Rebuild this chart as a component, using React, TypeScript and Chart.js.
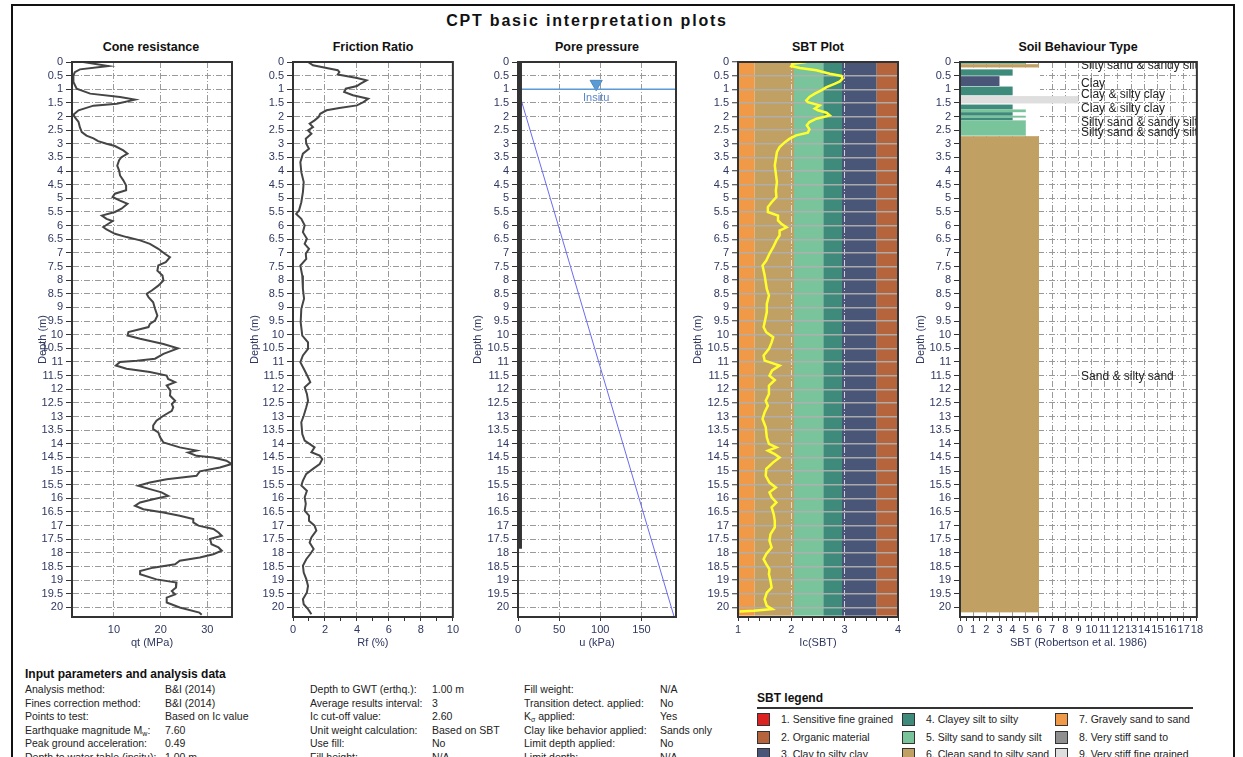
import React, { useEffect, useRef } from "react";
import { Chart, registerables } from "chart.js";

Chart.register(...registerables);

const FONT_FAMILY = "'Liberation Sans', Arial, sans-serif";
const TICK_COLOR = "#2f3760";
const GRID_COLOR = "#9a9a9a";
const GRID_DASH = [6, 2, 1, 2];

// ---------- depth axis ----------
const DEPTH_MIN = 0;
const DEPTH_MAX = 20.35;
const DEPTH_TICKS = [0, 0.5, 1, 1.5, 2, 2.5, 3, 3.5, 4, 4.5, 5, 5.5, 6, 6.5, 7, 7.5, 8, 8.5, 9, 9.5, 10, 10.5, 11, 11.5, 12, 12.5, 13, 13.5, 14, 14.5, 15, 15.5, 16, 16.5, 17, 17.5, 18, 18.5, 19, 19.5, 20];

// ---------- cone resistance qt (MPa) ----------
const QT_DEPTH = [0, 0.15, 0.27, 0.37, 0.5, 0.73, 0.98, 1.16, 1.28, 1.38, 1.53, 1.6, 1.77, 1.93, 2.02, 2.2, 2.4, 2.57, 2.7, 2.8, 2.9, 3.0, 3.08, 3.24, 3.36, 3.49, 3.6, 3.8, 3.98, 4.16, 4.34, 4.53, 4.7, 4.83, 4.95, 5.08, 5.2, 5.38, 5.5, 5.63, 5.75, 5.83, 5.93, 6.05, 6.14, 6.3, 6.42, 6.54, 6.67, 6.85, 7.03, 7.16, 7.34, 7.46, 7.65, 7.83, 8.01, 8.2, 8.38, 8.5, 8.62, 8.81, 9.05, 9.3, 9.48, 9.6, 9.72, 9.9, 10.03, 10.15, 10.34, 10.5, 10.7, 10.88, 10.95, 11.0, 11.13, 11.25, 11.37, 11.5, 11.62, 11.74, 11.86, 12.05, 12.23, 12.42, 12.54, 12.66, 12.79, 12.97, 13.15, 13.33, 13.46, 13.58, 13.76, 13.95, 14.13, 14.25, 14.32, 14.44, 14.5, 14.62, 14.74, 14.87, 15.01, 15.17, 15.3, 15.42, 15.54, 15.66, 15.78, 15.91, 16.03, 16.15, 16.27, 16.4, 16.52, 16.64, 16.76, 16.88, 17.0, 17.12, 17.25, 17.37, 17.49, 17.68, 17.8, 17.92, 18.05, 18.17, 18.29, 18.42, 18.54, 18.66, 18.78, 18.97, 19.09, 19.27, 19.4, 19.52, 19.64, 19.82, 20.0, 20.19, 20.27];
const QT_MPA = [3.4, 8.8, 2.7, 1.6, 1.3, 1.3, 2.0, 4.9, 11.3, 14.5, 10.6, 5.6, 2.4, 1.3, 1.6, 2.4, 2.7, 3.1, 4.1, 5.6, 6.6, 8.4, 10.2, 12.0, 12.9, 11.6, 11.1, 10.7, 11.1, 11.3, 12.0, 12.6, 12.6, 10.2, 9.7, 11.3, 12.9, 11.6, 10.2, 7.4, 8.4, 9.7, 8.8, 7.7, 8.4, 10.2, 12.7, 15.6, 17.7, 19.5, 20.9, 22.0, 21.1, 19.5, 19.3, 20.4, 20.6, 19.5, 18.1, 17.0, 17.4, 18.4, 18.8, 19.3, 18.8, 17.7, 17.4, 13.1, 12.9, 15.6, 20.6, 23.7, 20.6, 18.8, 14.9, 11.3, 10.4, 12.7, 17.7, 21.3, 21.6, 23.1, 21.3, 22.1, 22.0, 23.1, 22.4, 22.7, 22.4, 20.6, 19.1, 18.4, 18.4, 19.5, 19.9, 20.6, 24.1, 27.7, 25.9, 27.7, 31.3, 34.1, 35.2, 32.7, 28.4, 27.7, 21.3, 17.7, 15.2, 17.7, 20.2, 21.6, 18.4, 15.6, 14.5, 16.3, 20.6, 24.1, 27.0, 27.0, 28.1, 31.3, 32.4, 33.1, 30.6, 30.9, 32.4, 33.1, 31.3, 28.4, 24.1, 23.1, 18.4, 15.6, 15.6, 19.1, 23.4, 23.3, 22.4, 23.1, 21.3, 21.3, 24.1, 28.3, 28.8];
const QT_TICKS = [10, 20, 30];

// ---------- friction ratio Rf (%) ----------
const RF_DEPTH = [0, 0.12, 0.22, 0.3, 0.37, 0.46, 0.59, 0.67, 0.8, 0.88, 0.98, 1.1, 1.22, 1.35, 1.47, 1.59, 1.69, 1.77, 1.9, 2.02, 2.14, 2.26, 2.39, 2.51, 2.63, 2.81, 3.0, 3.18, 3.36, 3.67, 4.04, 4.4, 4.77, 5.14, 5.44, 5.57, 5.75, 5.99, 6.24, 6.48, 6.67, 6.85, 7.03, 7.22, 7.46, 7.83, 8.32, 8.68, 9.05, 9.54, 10.03, 10.28, 10.52, 10.76, 11.01, 11.31, 11.56, 11.74, 11.93, 12.17, 12.42, 12.66, 12.97, 13.21, 13.64, 13.88, 14.13, 14.31, 14.43, 14.56, 14.74, 14.92, 15.1, 15.35, 15.53, 15.72, 15.96, 16.2, 16.45, 16.63, 16.82, 17.0, 17.18, 17.43, 17.62, 17.86, 18.04, 18.23, 18.47, 18.72, 18.96, 19.21, 19.45, 19.7, 19.88, 20.06, 20.25];
const RF_PCT = [0.94, 1.25, 2.1, 2.8, 2.9, 2.8, 4.0, 4.6, 4.2, 4.0, 3.3, 3.2, 3.75, 4.7, 4.4, 4.0, 2.9, 2.1, 1.7, 1.6, 1.35, 1.04, 1.25, 0.94, 1.15, 0.8, 0.83, 1.0, 0.62, 0.46, 0.52, 0.67, 0.62, 0.52, 0.38, 0.2, 0.52, 0.73, 0.62, 0.87, 0.73, 1.0, 0.8, 0.83, 0.46, 0.58, 0.62, 0.69, 0.52, 0.48, 0.58, 0.94, 0.94, 0.62, 0.46, 0.73, 0.94, 1.08, 0.73, 0.87, 0.94, 0.83, 0.67, 0.52, 0.58, 0.73, 1.35, 1.15, 1.67, 1.83, 1.67, 1.25, 0.83, 0.62, 0.52, 0.87, 0.73, 0.8, 0.73, 1.0, 1.0, 1.35, 1.46, 1.15, 1.04, 1.29, 1.08, 0.83, 0.62, 0.67, 0.83, 0.94, 0.87, 0.62, 0.67, 0.94, 1.15];
const RF_TICKS = [0, 1, 2, 3, 4, 5, 6, 7, 8, 9, 10];

// ---------- pore pressure u (kPa) ----------
const U2_DEPTH = [0, 17.85];
const U2_KPA = [3, 3];
const UHYD_DEPTH = [1.0, 20.35];
const UHYD_KPA = [0, 189.8];
const GWT_LINE_DEPTH = [1.0, 1.0];
const GWT_LINE_KPA = [0, 192];
const GWT_MARKER_DEPTH = [0.8];
const GWT_MARKER_KPA = [95];
const GWT_LABEL = "Insitu";
const GWT_LABEL_DEPTH = 1.32;
const U_TICKS = [0, 50, 100, 150];

// ---------- Ic (SBT) ----------
const IC_DEPTH = [0, 0.06, 0.15, 0.22, 0.3, 0.43, 0.51, 0.61, 0.71, 0.8, 0.92, 1.04, 1.16, 1.28, 1.41, 1.47, 1.59, 1.71, 1.77, 1.86, 1.96, 2.08, 2.2, 2.32, 2.47, 2.59, 2.69, 2.81, 2.94, 3.12, 3.3, 3.55, 3.79, 4.1, 4.4, 4.71, 4.95, 5.14, 5.32, 5.5, 5.63, 5.81, 5.93, 6.06, 6.18, 6.36, 6.54, 6.79, 7.03, 7.28, 7.46, 7.83, 8.32, 8.56, 8.87, 9.17, 9.54, 9.72, 9.91, 10.09, 10.28, 10.52, 10.76, 10.95, 11.13, 11.31, 11.5, 11.66, 11.87, 12.17, 12.42, 12.6, 12.84, 13.09, 13.39, 13.76, 14.0, 14.13, 14.25, 14.38, 14.5, 14.68, 14.92, 15.17, 15.42, 15.6, 15.78, 15.96, 16.15, 16.33, 16.58, 16.82, 17.06, 17.31, 17.55, 17.8, 18.04, 18.23, 18.41, 18.6, 18.78, 19.03, 19.27, 19.46, 19.7, 19.94, 20.06, 20.12, 20.15];
const IC_VALUE = [2.28, 2.03, 2.0, 2.16, 2.47, 2.72, 2.94, 2.96, 2.91, 2.81, 2.66, 2.56, 2.44, 2.34, 2.28, 2.31, 2.53, 2.44, 2.5, 2.66, 2.72, 2.47, 2.34, 2.29, 2.34, 2.31, 2.09, 1.97, 1.88, 1.78, 1.73, 1.71, 1.69, 1.71, 1.73, 1.71, 1.72, 1.63, 1.56, 1.56, 1.75, 1.75, 1.81, 1.91, 1.78, 1.78, 1.72, 1.66, 1.59, 1.53, 1.46, 1.5, 1.54, 1.58, 1.54, 1.54, 1.5, 1.48, 1.53, 1.66, 1.63, 1.58, 1.48, 1.5, 1.78, 1.64, 1.59, 1.69, 1.58, 1.58, 1.52, 1.56, 1.5, 1.46, 1.52, 1.54, 1.58, 1.72, 1.56, 1.69, 1.78, 1.66, 1.53, 1.52, 1.59, 1.71, 1.59, 1.63, 1.72, 1.63, 1.67, 1.69, 1.69, 1.61, 1.59, 1.63, 1.53, 1.48, 1.53, 1.59, 1.58, 1.61, 1.63, 1.54, 1.5, 1.54, 1.64, 1.3, 1.03];
const IC_TICKS = [1, 1.2, 1.4, 1.6, 1.8, 2, 2.2, 2.4, 2.6, 2.8, 3, 3.2, 3.4, 3.6, 3.8, 4];
const IC_BOUNDS = [1, 1.31, 2.05, 2.6, 2.95, 3.6, 4];
const IC_BAND_ZONES = [7, 6, 5, 4, 3, 2];
const IC_BAND_BOTTOM = 20.3;

// ---------- SBT layers (Robertson 1986) ----------
const LAYER_TOP = [0, 0.08, 0.27, 0.52, 0.9, 1.25, 1.56, 1.74, 1.84, 1.97, 2.04, 2.14, 2.72];
const LAYER_BOTTOM = [0.08, 0.2, 0.5, 0.88, 1.22, 1.52, 1.74, 1.84, 1.97, 2.04, 2.14, 2.7, 20.18];
const LAYER_ZONE = [5, 6, 4, 3, 4, 9, 4, 5, 4, 5, 4, 5, 6];
const SBT_TICKS = [0, 0.5, 1, 1.5, 2, 2.5, 3, 3.5, 4, 4.5, 5, 5.5, 6, 6.5, 7, 7.5, 8, 8.5, 9, 9.5, 10, 10.5, 11, 11.5, 12, 12.5, 13, 13.5, 14, 14.5, 15, 15.5, 16, 16.5, 17, 17.5, 18];
const LAYER_LABEL_TEXT = ["Silty sand & sandy silt", "Clay", "Clay & silty clay", "Clay & silty clay", "Silty sand & sandy silt", "Silty sand & sandy silt", "Sand & silty sand"];
const LAYER_LABEL_DEPTH = [0.14, 0.8, 1.2, 1.71, 2.22, 2.59, 11.54];
const LAYER_LABEL_X = 9.2;

// ---------- zone colours & legend ----------
const ZONE_COLORS: Record<number, string> = {
  1: "#dd2222",
  2: "#b5643b",
  3: "#4a5678",
  4: "#3e8b7b",
  5: "#7ac49c",
  6: "#c1a063",
  7: "#f09a48",
  8: "#8f8f8f",
  9: "#dedede",
};
const LEGEND_ZONES = [1, 2, 3, 4, 5, 6, 7, 8, 9];
const LEGEND_TEXT = [
  "1. Sensitive fine grained",
  "2. Organic material",
  "3. Clay to silty clay",
  "4. Clayey silt to silty",
  "5. Silty sand to sandy silt",
  "6. Clean sand to silty sand",
  "7. Gravely sand to sand",
  "8. Very stiff sand to",
  "9. Very stiff fine grained",
];

// ---------- input parameter table ----------
const PARAM_LABELS_A = ["Analysis method:", "Fines correction method:", "Points to test:", "Earthquake magnitude M_w:", "Peak ground acceleration:", "Depth to water table (insitu):"];
const PARAM_VALUES_A = ["B&I (2014)", "B&I (2014)", "Based on Ic value", "7.60", "0.49", "1.00 m"];
const PARAM_LABELS_B = ["Depth to GWT (erthq.):", "Average results interval:", "Ic cut-off value:", "Unit weight calculation:", "Use fill:", "Fill height:"];
const PARAM_VALUES_B = ["1.00 m", "3", "2.60", "Based on SBT", "No", "N/A"];
const PARAM_LABELS_C = ["Fill weight:", "Transition detect. applied:", "K_σ applied:", "Clay like behavior applied:", "Limit depth applied:", "Limit depth:"];
const PARAM_VALUES_C = ["N/A", "No", "Yes", "Sands only", "No", "N/A"];

// ======================================================================

const pts = (xs: number[], ys: number[]) => ys.map((y, i) => ({ x: xs[i], y }));
const tickFont = { family: FONT_FAMILY, size: 11 };

function depthAxis(width: number, titlePad: number, grid: any = {}, dash: number[] = GRID_DASH) {
  return {
    type: "linear",
    position: "left",
    reverse: true,
    min: DEPTH_MIN,
    max: DEPTH_MAX,
    afterBuildTicks: (s: any) => {
      s.ticks = DEPTH_TICKS.map((v) => ({ value: v }));
    },
    afterFit: (s: any) => {
      s.width = width;
    },
    ticks: { autoSkip: false, color: TICK_COLOR, font: tickFont, padding: 3, callback: (v: any) => String(v) },
    grid: { color: GRID_COLOR, lineWidth: 1, tickLength: 6, tickColor: "#333", tickWidth: 1, ...grid },
    border: { display: true, color: "#333", width: 2, dash },
    title: { display: true, text: "Depth (m)", color: TICK_COLOR, font: tickFont, padding: { top: titlePad, bottom: 0 } },
  };
}

function valueAxis(min: number, max: number, ticks: number[], title: string, label: (v: number) => string, gridColor: any, tickColor: any, dash: number[] = GRID_DASH) {
  return {
    type: "linear",
    position: "bottom",
    min,
    max,
    afterBuildTicks: (s: any) => {
      s.ticks = ticks.map((v) => ({ value: v }));
    },
    afterFit: (s: any) => {
      s.height = 33;
    },
    ticks: { autoSkip: false, maxRotation: 0, minRotation: 0, color: TICK_COLOR, font: tickFont, padding: 2, callback: (v: any) => label(Number(v)) },
    grid: { color: gridColor, lineWidth: 1, tickLength: 4, tickColor, tickWidth: 1 },
    border: { display: true, color: "#333", width: 2, dash },
    title: { display: true, text: title, color: TICK_COLOR, font: tickFont, padding: { top: 0, bottom: 0 } },
  };
}

const framePlugin = {
  id: "frame",
  afterDraw(chart: any) {
    const { ctx, chartArea: a } = chart;
    ctx.save();
    ctx.strokeStyle = "#333";
    ctx.lineWidth = 2;
    ctx.strokeRect(a.left, a.top, a.right - a.left, a.bottom - a.top);
    ctx.restore();
  },
};

const icBandsPlugin = {
  id: "icBands",
  beforeDraw(chart: any) {
    const { ctx, scales } = chart;
    const x = scales.x;
    const y = scales.y;
    ctx.save();
    for (let i = 0; i < IC_BAND_ZONES.length; i++) {
      const x0 = x.getPixelForValue(IC_BOUNDS[i]);
      const x1 = x.getPixelForValue(IC_BOUNDS[i + 1]);
      const y0 = y.getPixelForValue(0);
      const y1 = y.getPixelForValue(IC_BAND_BOTTOM);
      ctx.fillStyle = ZONE_COLORS[IC_BAND_ZONES[i]];
      ctx.fillRect(x0, y0, x1 - x0, y1 - y0);
    }
    ctx.restore();
  },
};

const sbtLayersPlugin = {
  id: "sbtLayers",
  beforeDatasetsDraw(chart: any) {
    const { ctx, scales } = chart;
    const x = scales.x;
    const y = scales.y;
    ctx.save();
    // white envelope behind the thin upper layers
    const ex0 = x.getPixelForValue(0);
    const ex1 = x.getPixelForValue(6);
    const ey0 = y.getPixelForValue(LAYER_BOTTOM[1]);
    const ey1 = y.getPixelForValue(LAYER_TOP[LAYER_TOP.length - 1]);
    ctx.fillStyle = "#ffffff";
    ctx.fillRect(ex0 + 1, ey0, ex1 - ex0, ey1 - ey0);
    for (let i = 0; i < LAYER_ZONE.length; i++) {
      const x0 = x.getPixelForValue(0);
      const x1 = x.getPixelForValue(LAYER_ZONE[i]);
      const y0 = y.getPixelForValue(LAYER_TOP[i]);
      const y1 = y.getPixelForValue(LAYER_BOTTOM[i]);
      ctx.fillStyle = ZONE_COLORS[LAYER_ZONE[i]];
      ctx.fillRect(x0, y0, x1 - x0, y1 - y0);
    }
    ctx.restore();
  },
  afterDatasetsDraw(chart: any) {
    const { ctx, scales, chartArea: a } = chart;
    const x = scales.x;
    const y = scales.y;
    ctx.save();
    ctx.beginPath();
    ctx.rect(a.left, a.top, a.right - a.left, a.bottom - a.top);
    ctx.clip();
    ctx.font = `12px ${FONT_FAMILY}`;
    ctx.fillStyle = "#222";
    ctx.textAlign = "left";
    ctx.textBaseline = "middle";
    for (let i = 0; i < LAYER_LABEL_TEXT.length; i++) {
      ctx.fillText(LAYER_LABEL_TEXT[i], x.getPixelForValue(LAYER_LABEL_X), y.getPixelForValue(LAYER_LABEL_DEPTH[i]));
    }
    ctx.restore();
  },
};

const gwtLabelPlugin = {
  id: "gwtLabel",
  afterDatasetsDraw(chart: any) {
    const { ctx, scales } = chart;
    ctx.save();
    ctx.font = `11px ${FONT_FAMILY}`;
    ctx.fillStyle = "#5a86c9";
    ctx.textAlign = "center";
    ctx.textBaseline = "middle";
    ctx.fillText(GWT_LABEL, scales.x.getPixelForValue(GWT_MARKER_KPA[0]), scales.y.getPixelForValue(GWT_LABEL_DEPTH));
    ctx.restore();
  },
};

function baseConfig(datasets: any[], x: any, y: any, plugins: any[]) {
  return {
    type: "scatter",
    data: { datasets },
    options: {
      animation: false,
      responsive: false,
      maintainAspectRatio: false,
      events: [],
      layout: { padding: { top: 10, right: 8, bottom: 0, left: 0 } },
      plugins: { legend: { display: false }, tooltip: { enabled: false } },
      scales: { x, y },
    },
    plugins: [...plugins, framePlugin],
  };
}

const lineDs = (data: any[], color: string, width: number) => ({
  data,
  showLine: true,
  borderColor: color,
  backgroundColor: color,
  borderWidth: width,
  pointRadius: 0,
  tension: 0,
});

const isInt = (v: number) => Math.abs(v - Math.round(v)) < 1e-6;

type Panel = { left: number; width: number; make: () => any };
const CANVAS_TOP = 52;
const CANVAS_HEIGHT = 598;

const PANELS: Panel[] = [
  {
    left: 30,
    width: 210,
    make: () =>
      baseConfig(
        [lineDs(pts(QT_MPA, QT_DEPTH), "#454545", 2)],
        valueAxis(1, 35.3, QT_TICKS, "qt (MPa)", (v) => String(v), GRID_COLOR, "transparent"),
        depthAxis(42, 6.4),
        []
      ),
  },
  {
    left: 245,
    width: 216,
    make: () =>
      baseConfig(
        [lineDs(pts(RF_PCT, RF_DEPTH), "#454545", 2)],
        valueAxis(0, 10, RF_TICKS, "Rf (%)", (v) => (v % 2 === 0 ? String(v) : ""), (c: any) => (c.tick && c.tick.value % 2 === 0 ? GRID_COLOR : "transparent"), "#333"),
        depthAxis(48, 3.4),
        []
      ),
  },
  {
    left: 471,
    width: 213,
    make: () =>
      baseConfig(
        [
          lineDs(pts(U2_KPA, U2_DEPTH), "#333333", 3),
          lineDs(pts(GWT_LINE_KPA, GWT_LINE_DEPTH), "#5b9bd5", 1.5),
          lineDs(pts(UHYD_KPA, UHYD_DEPTH), "#6b6bf2", 1),
          {
            data: pts(GWT_MARKER_KPA, GWT_MARKER_DEPTH),
            showLine: false,
            pointStyle: "triangle",
            rotation: 180,
            pointRadius: 7,
            backgroundColor: "#5b9bd5",
            borderColor: "#4a86c0",
            borderWidth: 1,
          },
        ],
        valueAxis(0, 192, U_TICKS, "u (kPa)", (v) => String(v), GRID_COLOR, "#333"),
        depthAxis(47, 0),
        [gwtLabelPlugin]
      ),
  },
  {
    left: 691,
    width: 215,
    make: () =>
      baseConfig(
        [lineDs(pts(IC_VALUE, IC_DEPTH), "#ffff2e", 2.5)],
        valueAxis(1, 4, IC_TICKS, "Ic(SBT)", (v) => (isInt(v) ? String(v) : ""), (c: any) => (c.tick && isInt(c.tick.value) ? "rgba(225,225,225,0.9)" : "transparent"), "#333"),
        depthAxis(47, 0, { color: "rgba(175,175,175,0.95)", lineWidth: 1.5 }, []),
        [icBandsPlugin]
      ),
  },
  {
    left: 914,
    width: 291,
    make: () =>
      baseConfig(
        [{ data: [], showLine: false, pointRadius: 0 }],
        valueAxis(0, 18, SBT_TICKS, "SBT (Robertson et al. 1986)", (v) => (isInt(v) ? String(v) : ""), (c: any) => (c.tick && isInt(c.tick.value) ? GRID_COLOR : "transparent"), "#333"),
        depthAxis(46, 0),
        [sbtLayersPlugin]
      ),
  },
];

const PANEL_TITLES = ["Cone resistance", "Friction Ratio", "Pore pressure", "SBT Plot", "Soil Behaviour Type"];
const PANEL_TITLE_X = [151, 373, 597, 818, 1078];

function ChartCanvas({ panel }: { panel: Panel }) {
  const ref = useRef<HTMLCanvasElement>(null);
  useEffect(() => {
    if (!ref.current) return;
    const chart = new Chart(ref.current, panel.make());
    return () => chart.destroy();
  }, [panel]);
  return (
    <canvas
      ref={ref}
      width={panel.width}
      height={CANVAS_HEIGHT}
      style={{ position: "absolute", left: panel.left, top: CANVAS_TOP, width: panel.width, height: CANVAS_HEIGHT }}
    />
  );
}

function withSub(text: string) {
  const idx = text.indexOf("_");
  if (idx < 0) return text;
  return (
    <>
      {text.slice(0, idx)}
      <sub style={{ fontSize: "7px", verticalAlign: "-2px" }}>{text.charAt(idx + 1)}</sub>
      {text.slice(idx + 2)}
    </>
  );
}

const PARAM_COLUMNS = [PARAM_LABELS_A, PARAM_VALUES_A, PARAM_LABELS_B, PARAM_VALUES_B, PARAM_LABELS_C, PARAM_VALUES_C];
const PARAM_COL_X = [25, 165, 310, 432, 524, 660];
const PARAM_ROW_Y0 = 689;
const PARAM_ROW_STEP = 13.6;

const LEGEND_COL_X = [757, 902, 1055];
const LEGEND_ROW_Y = [720, 737.5, 755];

export default function App() {
  const textStyle: React.CSSProperties = {
    position: "absolute",
    fontFamily: FONT_FAMILY,
    whiteSpace: "nowrap",
  };
  return (
    <div
      style={{
        position: "absolute",
        left: 0,
        top: 0,
        width: 1243,
        height: 757,
        overflow: "hidden",
        background: "#ffffff",
      }}
    >
      {/* outer frame */}
      <div style={{ position: "absolute", left: 11, top: 4, width: 1220, height: 800, border: "2px solid #111" }} />

      {/* main title */}
      <div
        style={{
          ...textStyle,
          left: 387,
          width: 400,
          top: 12,
          textAlign: "center",
          fontSize: 16,
          fontWeight: "bold",
          letterSpacing: "1.8px",
          lineHeight: "18px",
          color: "#111",
        }}
      >
        CPT basic interpretation plots
      </div>

      {PANEL_TITLES.map((t, i) => (
        <div
          key={t}
          style={{
            ...textStyle,
            left: PANEL_TITLE_X[i] - 100,
            width: 200,
            top: 40,
            textAlign: "center",
            fontSize: 12.5,
            fontWeight: "bold",
            lineHeight: "14px",
            color: "#111",
          }}
        >
          {t}
        </div>
      ))}

      {PANELS.map((p, i) => (
        <ChartCanvas key={i} panel={p} />
      ))}

      {/* input parameters */}
      <div style={{ ...textStyle, left: 25, top: 667, fontSize: 12, fontWeight: "bold", lineHeight: "14px", color: "#111" }}>
        Input parameters and analysis data
      </div>
      {PARAM_COLUMNS.map((col, ci) =>
        col.map((txt, ri) => (
          <div
            key={`${ci}-${ri}`}
            style={{
              ...textStyle,
              left: PARAM_COL_X[ci],
              top: PARAM_ROW_Y0 + ri * PARAM_ROW_STEP - 6,
              fontSize: 10.5,
              lineHeight: "12px",
              color: "#222",
            }}
          >
            {withSub(txt)}
          </div>
        ))
      )}

      {/* SBT legend */}
      <div style={{ ...textStyle, left: 757, top: 691, fontSize: 12, fontWeight: "bold", lineHeight: "14px", color: "#111" }}>SBT legend</div>
      <div style={{ position: "absolute", left: 757, top: 707, width: 436, height: 2, background: "#333" }} />
      {LEGEND_ZONES.map((z, i) => {
        const col = Math.floor(i / 3);
        const row = i % 3;
        const cy = LEGEND_ROW_Y[row];
        return (
          <React.Fragment key={z}>
            <div
              style={{
                position: "absolute",
                left: LEGEND_COL_X[col],
                top: cy - 7,
                width: 11,
                height: 11,
                background: ZONE_COLORS[z],
                border: "1.5px solid #333",
              }}
            />
            <div
              style={{
                ...textStyle,
                left: LEGEND_COL_X[col] + 24,
                top: cy - 7,
                fontSize: 10.5,
                lineHeight: "13px",
                color: "#222",
              }}
            >
              {LEGEND_TEXT[i]}
            </div>
          </React.Fragment>
        );
      })}
    </div>
  );
}
